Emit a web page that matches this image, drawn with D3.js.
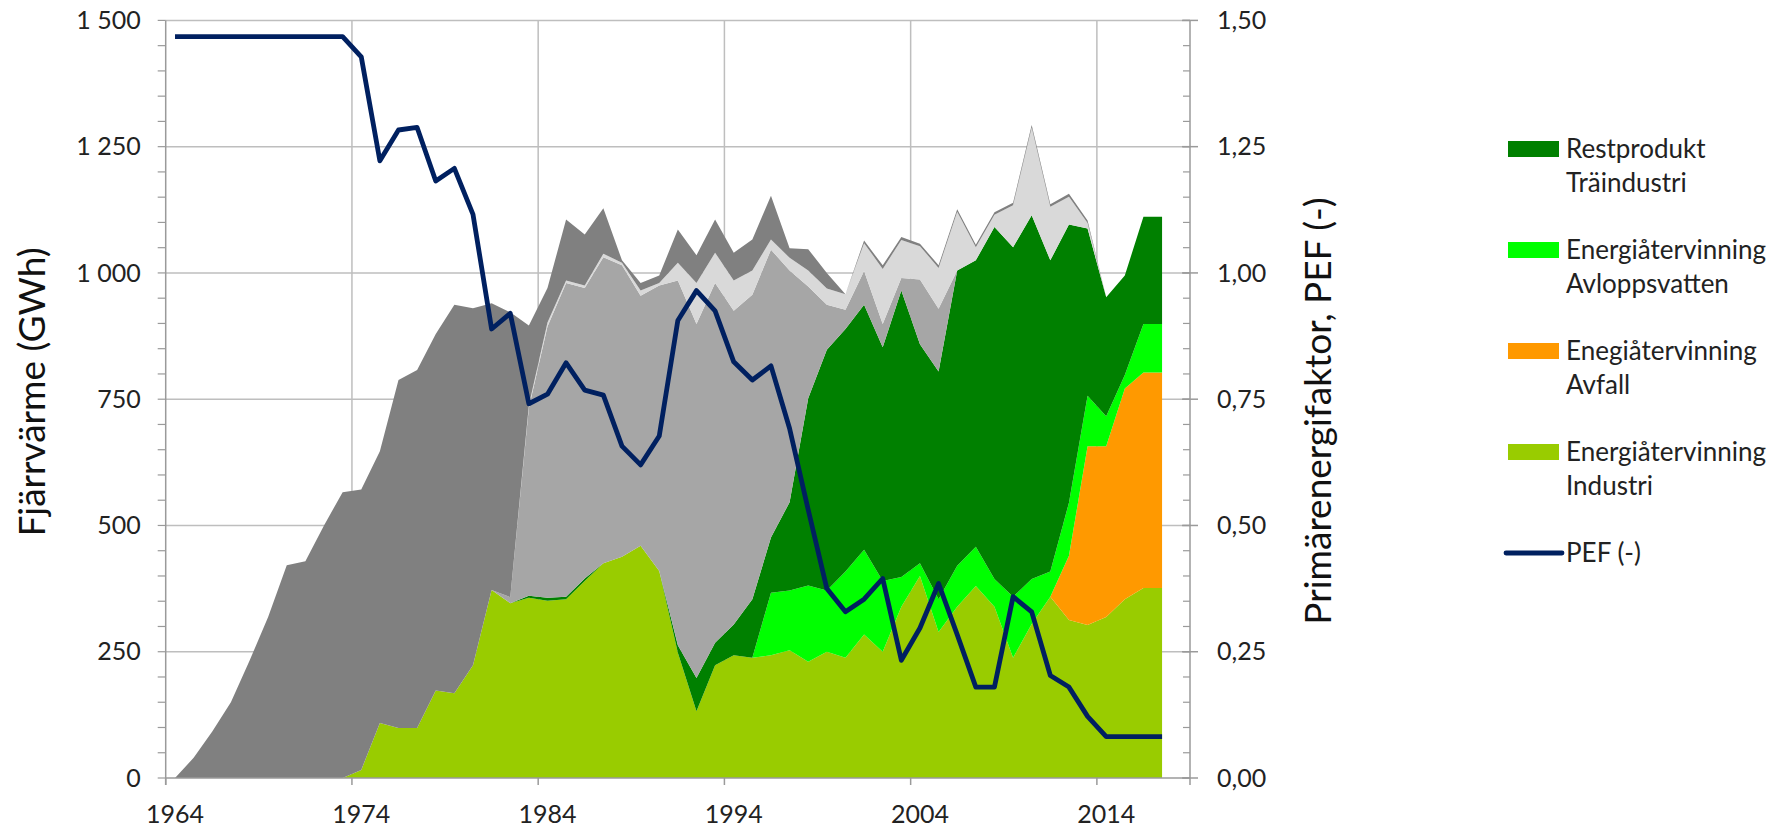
<!DOCTYPE html>
<html><head><meta charset="utf-8">
<script src="https://cdn.jsdelivr.net/npm/d3@7"></script>
<style>body{margin:0;background:#fff}svg{display:block;font-family:Lato,'Open Sans',sans-serif}</style>
</head><body><svg id="c" width="1773" height="830"></svg>
<script>
const years = [1964,1965,1966,1967,1968,1969,1970,1971,1972,1973,1974,1975,1976,1977,1978,1979,1980,1981,1982,1983,1984,1985,1986,1987,1988,1989,1990,1991,1992,1993,1994,1995,1996,1997,1998,1999,2000,2001,2002,2003,2004,2005,2006,2007,2008,2009,2010,2011,2012,2013,2014,2015,2016,2017,2018];
const xTickLabels = [1964,1974,1984,1994,2004,2014];
const leftTicks = [0,250,500,750,1000,1250,1500];
const rightTicks = [0,0.25,0.5,0.75,1,1.25,1.5];
// values 1964..2017 (GWh)
const industri = [0,0,0,0,0,0,0,0,0,0, 16,109,99,99,173,168,223,372,346,357, 351,354,390,425,438,460,410,248,132,223, 243,238,243,253,230,250,238,284,250,339, 400,289,339,380,339,238,305,359,313,303, 319,354,376,376];
const avfall = [0,0,0,0,0,0,0,0,0,0, 0,0,0,0,0,0,0,0,0,0, 0,0,0,0,0,0,0,0,0,0, 0,0,0,0,0,0,0,0,0,0, 0,0,0,0,0,0,0,0,127,354, 338,417,427,427];
const avlopp = [0,0,0,0,0,0,0,0,0,0, 0,0,0,0,0,0,0,0,0,0, 0,0,0,0,0,0,0,0,0,0, 0,0,124,118,151,121,171,168,140,59, 25,65,81,78,55,121,89,50,105,100, 59,27,96,96];
const restprodukt = [0,0,0,0,0,0,0,0,0,0, 0,0,0,0,0,0,0,0,0,4, 6,5,5,0,0,0,0,15,66,45, 61,116,109,175,371,477,480,485,463,567, 434,451,585,567,697,692,720,616,551,331, 236,197,212,212];
const grayMid = [0,0,0,0,0,0,0,0,0,0, 0,0,0,0,0,0,0,0,12,372, 537,621,575,606,577,495,565,722,701,712, 621,603,570,459,221,89,38,67,46,25, 128,124,0,0,0,0,0,0,0,0, 0,0,0,0];
const grayLight = [0,0,0,0,0,0,0,0,0,0, 0,0,0,0,0,0,0,0,0,5, 8,5,5,7,5,10,5,35,81,60, 60,48,20,25,32,32,31,55,109,75, 66,81,116,26,24,83,174,106,55,11, 0,0,0,0];
const grayDark = [0,40,92,150,232,319,421,429,500,566, 555,538,689,709,706,769,707,568,564,158, 68,121,101,90,5,15,15,66,55,66, 55,61,87,19,42,31,0,5,7,6, 5,5,5,5,5,5,5,5,6,5, 0,0,0,0];
const pef = [1.468,1.468,1.468,1.468,1.468,1.468,1.468,1.468,1.468,1.468, 1.428,1.222,1.283,1.288,1.182,1.207,1.116,0.889,0.920,0.741, 0.760,0.822,0.768,0.758,0.657,0.620,0.677,0.906,0.965,0.925, 0.824,0.788,0.816,0.692,0.531,0.375,0.329,0.354,0.395,0.233, 0.297,0.385,0.284,0.180,0.180,0.359,0.329,0.203,0.180,0.122, 0.082,0.082,0.082,0.082];

const seriesKeys = ["industri","avfall","avlopp","restprodukt","grayMid","grayLight","grayDark"];
const seriesColors = ["#99CC00","#FF9900","#00FF00","#008000","#A6A6A6","#D9D9D9","#808080"];
const legendNames = [["Restprodukt","Träindustri"],["Energiåtervinning","Avloppsvatten"],["Enegiåtervinning","Avfall"],["Energiåtervinning","Industri"]];
const legendColors = ["#008000","#00FF00","#FF9900","#99CC00"];
const pefName = "PEF (-)";
const pefColor = "#002060";

const table = pef.map((p,i)=>({year:years[i], industri:industri[i], avfall:avfall[i], avlopp:avlopp[i], restprodukt:restprodukt[i], grayMid:grayMid[i], grayLight:grayLight[i], grayDark:grayDark[i], pef:p}));

const svg = d3.select("#c");
const L=165.7, R=1190, T=20.4, B=778;
const x = d3.scaleBand().domain(years).range([L,R]).padding(0);
const cx = d => x(d) + x.bandwidth()/2;
const y = d3.scaleLinear().domain([0,1500]).range([B,T]);
const y2 = d3.scaleLinear().domain([0,1.5]).range([B,T]);
const gridC = "#BEBEBE", axisC = "#9A9A9A";

// gridlines
svg.append("g").selectAll("line").data(leftTicks.filter(v=>v>0)).join("line")
  .attr("x1",L).attr("x2",R).attr("y1",d=>y(d)).attr("y2",d=>y(d))
  .attr("stroke",gridC).attr("stroke-width",1.5);
svg.append("g").selectAll("line").data(xTickLabels.slice(1)).join("line")
  .attr("x1",d=>x(d)).attr("x2",d=>x(d)).attr("y1",T).attr("y2",B)
  .attr("stroke",gridC).attr("stroke-width",1.5);

// stacked areas
const stack = d3.stack().keys(seriesKeys).order(d3.stackOrderNone).offset(d3.stackOffsetNone);
const layers = stack(table);
const area = d3.area().x(d=>cx(d.data.year)).y0(d=>y(d[0])).y1(d=>y(d[1])).curve(d3.curveLinear);
svg.append("g").selectAll("path").data(layers).join("path")
  .attr("d",area).attr("fill",(d,i)=>seriesColors[i]);

// PEF line
const line = d3.line().x(d=>cx(d.year)).y(d=>y2(d.pef));
svg.append("path").datum(table).attr("d",line).attr("fill","none")
  .attr("stroke",pefColor).attr("stroke-width",4.8).attr("stroke-linejoin","round");

// left axis
const ax = svg.append("g");
ax.append("line").attr("x1",L).attr("x2",L).attr("y1",T).attr("y2",B+7).attr("stroke",axisC).attr("stroke-width",1.5);
const minorL = d3.range(0,1501,50);
ax.selectAll(".ml").data(minorL).join("line").attr("x1",L-8).attr("x2",L).attr("y1",d=>y(d)).attr("y2",d=>y(d)).attr("stroke",axisC).attr("stroke-width",1.2);
ax.selectAll(".tl").data(leftTicks).join("text").attr("x",L-25).attr("y",d=>y(d)).attr("dy","0.35em")
  .attr("text-anchor","end").attr("font-size",25).attr("fill","#222")
  .text(d=>d3.format(",")(d).replace(","," "));
// bottom axis
ax.append("line").attr("x1",L).attr("x2",R).attr("y1",B).attr("y2",B).attr("stroke",axisC).attr("stroke-width",1.5);
ax.selectAll(".bt").data(xTickLabels).join("line").attr("x1",d=>x(d)).attr("x2",d=>x(d)).attr("y1",B).attr("y2",B+7).attr("stroke",axisC).attr("stroke-width",1.5);
ax.selectAll(".bl").data(xTickLabels).join("text").attr("x",d=>cx(d)).attr("y",823)
  .attr("text-anchor","middle").attr("font-size",25).attr("fill","#222").text(d=>d);
// right axis
ax.append("line").attr("x1",R).attr("x2",R).attr("y1",T).attr("y2",B+7).attr("stroke",axisC).attr("stroke-width",1.5);
const minorR = d3.range(0,31).map(i=>i*0.05);
ax.selectAll(".mr").data(minorR).join("line").attr("x1",R-7).attr("x2",R).attr("y1",d=>y2(d)).attr("y2",d=>y2(d)).attr("stroke",axisC).attr("stroke-width",1.2);
ax.selectAll(".Mr").data(rightTicks).join("line").attr("x1",R-8).attr("x2",R+8).attr("y1",d=>y2(d)).attr("y2",d=>y2(d)).attr("stroke",axisC).attr("stroke-width",1.5);
ax.selectAll(".tr").data(rightTicks).join("text").attr("x",R+27).attr("y",d=>y2(d)).attr("dy","0.35em")
  .attr("text-anchor","start").attr("font-size",25).attr("fill","#222")
  .text(d=>d3.format(".2f")(d).replace(".",","));

// titles
svg.append("text").attr("transform","translate(45,392) rotate(-90)").attr("text-anchor","middle")
  .attr("font-size",37).attr("fill","#111").text("Fjärrvärme (GWh)");
svg.append("text").attr("transform","translate(1331,411) rotate(-90)").attr("text-anchor","middle")
  .attr("font-size",37).attr("fill","#111").text("Primärenergifaktor, PEF (-)");

// legend
const lg = svg.append("g");
const ly0 = 149, lstep = 101;
legendNames.forEach((nm,i)=>{
  const yy = ly0 + i*lstep;
  lg.append("rect").attr("x",1508).attr("y",yy-8).attr("width",51).attr("height",16).attr("fill",legendColors[i]);
  lg.append("text").attr("x",1566).attr("y",yy).attr("dy","0.35em").attr("font-size",26).attr("fill","#222").text(nm[0]);
  lg.append("text").attr("x",1566).attr("y",yy+34).attr("dy","0.35em").attr("font-size",26).attr("fill","#222").text(nm[1]);
});
const py = ly0 + 4*lstep;
lg.append("line").attr("x1",1506).attr("x2",1562).attr("y1",py).attr("y2",py).attr("stroke",pefColor).attr("stroke-width",4.8).attr("stroke-linecap","round");
lg.append("text").attr("x",1566).attr("y",py).attr("dy","0.35em").attr("font-size",26).attr("fill","#222").text(pefName);
</script></body></html>
